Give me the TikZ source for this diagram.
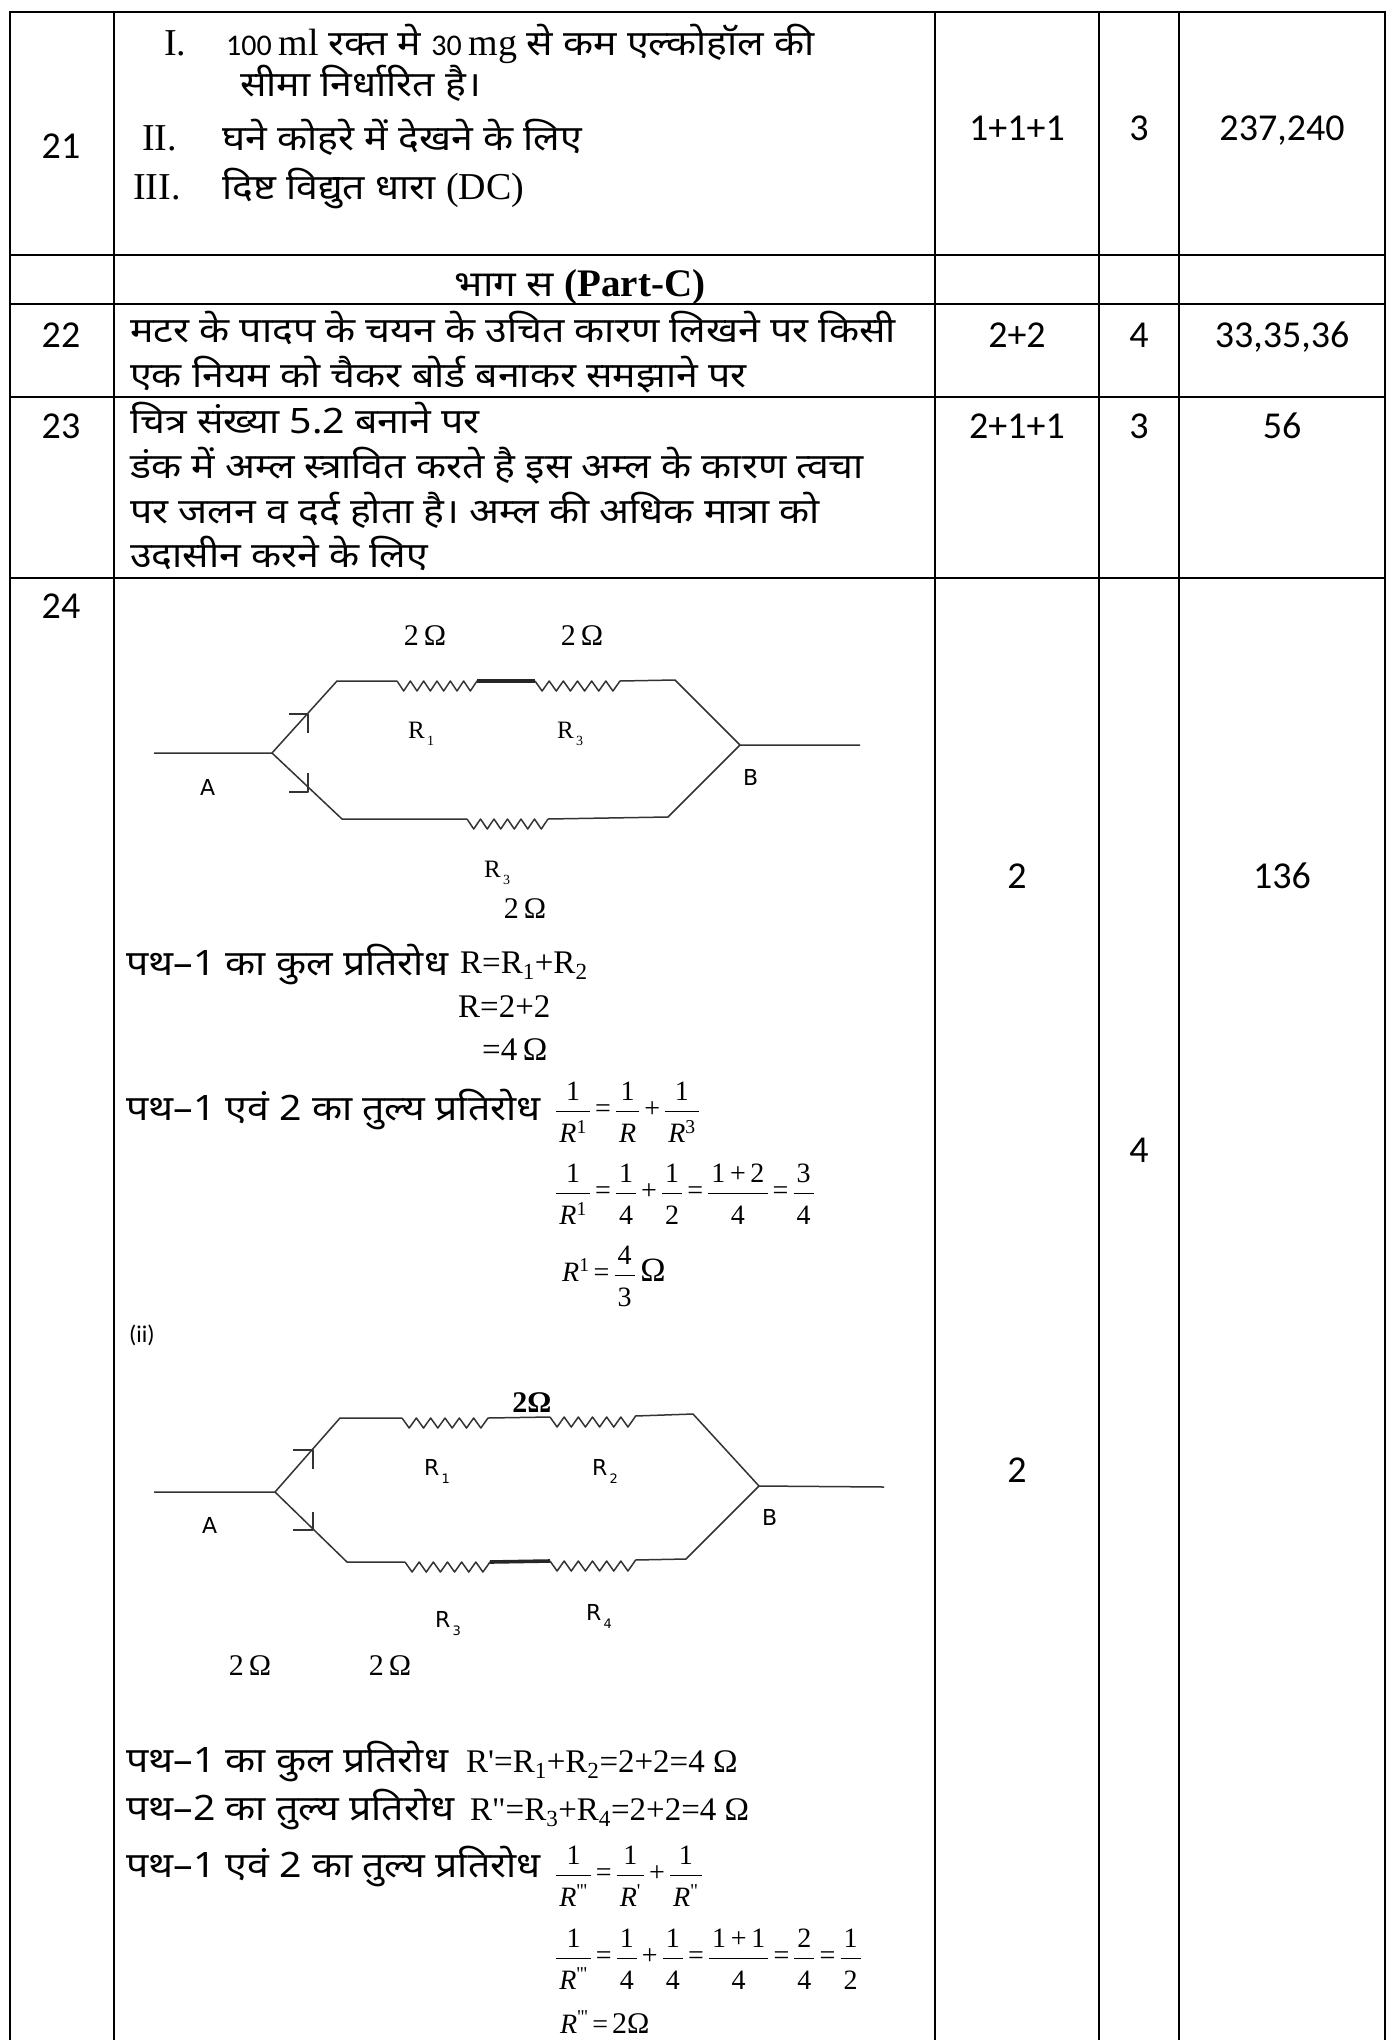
\documentclass[tikz,border=0pt]{standalone}
\usepackage{fontspec}
\setmainfont{Liberation Serif}
\newfontfamily\hnd[Script=Devanagari, FakeStretch=1.12]{Noto Sans}
\newfontfamily\calib{Carlito}
\newfontfamily\dejav{DejaVu Sans}
\newfontfamily\tms{Liberation Serif}
\usetikzlibrary{calc}
\newcommand\fsz[1]{\fontsize{#1}{#1}\selectfont}
\newcommand\fr[2]{\ensuremath{\displaystyle\frac{\hbox{\kern3pt#1\kern3pt}}{\hbox{\kern3pt\rule{0pt}{1.08em}#2\kern3pt}}}}
\newcommand\op[1]{\hspace{4pt}#1\hspace{4pt}}
\newcommand\Ri{\textit{R}}
\newcommand\sq{\textquotesingle}
\newcommand\resist[2]{%
  \draw[wire] let \p1=(#1), \p2=(#2), \n1={(\x2-\x1)/6} in (\p1)
    \foreach \k in {1,...,6}{ -- ++({\n1/2},10) -- ++({\n1/2},-10) } -- (\p2);}
\tikzset{
  T/.style={inner sep=0pt, anchor=base west},
  C/.style={inner sep=0pt, anchor=base},
  tline/.style={line width=2pt, black},
  wire/.style={line width=1.5pt, black!80, line join=round},
  thickwire/.style={line width=3.6pt, black!85},
  num/.style={C, font=\calib\fsz{38}},
  hin/.style={T, font=\hnd\fsz{35}},
  rom/.style={T, font=\tms\fsz{38}},
  eq/.style={T, font=\tms\fsz{33}},
  frx/.style={T, font=\tms\fsz{28}},
  clab/.style={T, font=\tms\fsz{25}},
  slab/.style={T, font=\dejav\fsz{22}},
  ohm/.style={C, font=\tms\fsz{30}},
}
\begin{document}
\begin{tikzpicture}[x=1pt,y=-1pt]
\fill[white] (0,0) rectangle (1390,2040);
\useasboundingbox (0,0) rectangle (1390,2040);
% ---------------- table rules
\foreach \xx in {10,114,935,1099,1179,1385}{\draw[tline] (\xx,11) -- (\xx,2040);}
\foreach \yy in {12,255,304,397,578}{\draw[tline] (9,\yy) -- (1386,\yy);}
% ---------------- row 21
\node[num] (n21) at (61,158) {21};
\node[rom] (r21i) at (164,55) {I.};
\node[T] (r21a) at (226,55) {\calib\fsz{30}100 \tms\fsz{38}ml \hnd\fsz{35}रक्त मे \calib\fsz{30}30 \tms\fsz{38}mg \hnd\fsz{35}से कम एल्कोहॉल की};
\node[hin] (r21b) at (240,96) {सीमा निर्धारित है।};
\node[rom] (r21ii) at (142,150) {II.};
\node[hin] (r21c) at (222,150) {घने कोहरे में देखने के लिए};
\node[rom] (r21iii) at (133,199) {III.};
\node[T] (r21d) at (222,199) {\hnd\fsz{35}दिष्ट विद्युत धारा \tms\fsz{38}(DC)};
\node[num] (m21) at (1017,140) {1+1+1};
\node[num] (k21) at (1139,140) {3};
\node[num] (p21) at (1282,140) {237,240};
% ---------------- part C
\node[C] (partc) at (580,296) {\bfseries\hnd\fsz{36}भाग स \tms\fsz{39}(Part-C)};
% ---------------- row 22
\node[num] (n22) at (61,347) {22};
\node[hin] (t22a) at (130,342) {मटर के पादप के चयन के उचित कारण लिखने पर किसी};
\node[hin] (t22b) at (130,387) {एक नियम को चैकर बोर्ड बनाकर समझाने पर};
\node[num] (m22) at (1017,347) {2+2};
\node[num] (k22) at (1139,347) {4};
\node[num] (p22) at (1282,347) {33,35,36};
% ---------------- row 23
\node[num] (n23) at (61,438) {23};
\node[hin] (t23a) at (130,433) {चित्र संख्या 5.2 बनाने पर};
\node[hin] (t23b) at (130,478) {डंक में अम्ल स्त्रावित करते है इस अम्ल के कारण त्वचा};
\node[hin] (t23c) at (130,523) {पर जलन व दर्द होता है। अम्ल की अधिक मात्रा को};
\node[hin] (t23d) at (130,567) {उदासीन करने के लिए};
\node[num] (m23) at (1017,438) {2+1+1};
\node[num] (k23) at (1139,438) {3};
\node[num] (p23) at (1282,438) {56};
% ---------------- row 24 marks
\node[num] (n24) at (61,618) {24};
\node[num] (m24a) at (1017,888) {2};
\node[num] (p24) at (1282,888) {136};
\node[num] (k24) at (1139,1162) {4};
\node[num] (m24b) at (1017,1482) {2};
% ---------------- circuit 1
\coordinate (a1in) at (154,753);
\coordinate (A1) at (272,753);
\coordinate (ul1) at (337,681);
\coordinate (r1s) at (397,681);
\coordinate (r1e) at (477,681);
\coordinate (r2s) at (535,681);
\coordinate (r2e) at (620,681);
\coordinate (ur1) at (675,680);
\coordinate (B1) at (740,745);
\coordinate (b1out) at (860,745);
\coordinate (ll1) at (342,819);
\coordinate (r3s) at (467,819);
\coordinate (r3e) at (548,819);
\coordinate (lr1) at (668,817);
\draw[wire] (a1in) -- (A1) -- (ul1) -- (r1s);
\resist{r1s}{r1e}
\draw[thickwire] (r1e) -- (r2s);
\resist{r2s}{r2e}
\draw[wire] (r2e) -- (ur1) -- (B1) -- (b1out);
\draw[wire] (A1) -- (ll1) -- (r3s);
\resist{r3s}{r3e}
\draw[wire] (r3e) -- (lr1) -- (B1);
\coordinate (m1a) at (308,714);
\coordinate (m1b) at (308,792);
\draw[wire] ([xshift=-19pt]m1a) -- (m1a) -- ([yshift=-19pt]m1a);
\draw[wire] ([yshift=19pt]m1b) -- (m1b) -- ([xshift=-19pt]m1b);
\node[ohm] (w1) at (425,645) {2\,Ω};
\node[ohm] (w2) at (582,645) {2\,Ω};
\node[clab] (lR1) at (408,738) {R\raisebox{-7pt}{\fsz{14}\,1}};
\node[clab] (lR3) at (557,738) {R\raisebox{-7pt}{\fsz{14}\,3}};
\node[slab] (lA1) at (200,795) {A};
\node[slab] (lB1) at (743,785) {B};
\node[clab] (lR3b) at (484,877) {R\raisebox{-7pt}{\fsz{14}\,3}};
\node[ohm] (w3) at (525,918) {2\,Ω};
% ---------------- part (i) working
\node[hin] (hp1) at (126,975) {पथ–1 का कुल प्रतिरोध};
\node[eq] (eq1) at (460,973) {R=R\textsubscript{1}+R\textsubscript{2}};
\node[eq] (eq2) at (458,1017) {R=2+2};
\node[eq] (eq3) at (482,1060) {=4\,Ω};
\node[hin] (hp2) at (126,1120) {पथ–1 एवं 2 का तुल्य प्रतिरोध};
\node[frx] (fr1) at (555,1117) {\fr{1}{\Ri\textsuperscript{1}}\op{=}\fr{1}{\Ri}\op{+}\fr{1}{\Ri\textsuperscript{3}}};
\node[frx] (fr2) at (555,1199) {\fr{1}{\Ri\textsuperscript{1}}\op{=}\fr{1}{4}\op{+}\fr{1}{2}\op{=}\fr{1\,+\,2}{4}\op{=}\fr{3}{4}};
\node[frx] (fr3) at (562,1281) {\Ri\textsuperscript{1}\op{=}\fr{4}{3}\,{\fsz{34}Ω}};
\node[T, font=\calib\fsz{24}] (ii) at (129,1342) {(ii)};
% ---------------- circuit 2
\coordinate (a2in) at (154,1492);
\coordinate (A2) at (275,1492);
\coordinate (ul2) at (340,1418);
\coordinate (q1s) at (402,1418);
\coordinate (q1e) at (488,1418);
\coordinate (q2s) at (550,1417);
\coordinate (q2e) at (635,1416);
\coordinate (ur2) at (693,1414);
\coordinate (B2) at (759,1486);
\coordinate (b2out) at (884,1487);
\coordinate (ll2) at (347,1562);
\coordinate (q3s) at (405,1562);
\coordinate (q3e) at (490,1562);
\coordinate (q4s) at (550,1561);
\coordinate (q4e) at (635,1560);
\coordinate (lr2) at (686,1559);
\draw[wire] (a2in) -- (A2) -- (ul2) -- (q1s);
\resist{q1s}{q1e}
\draw[wire] (q1e) -- (q2s);
\resist{q2s}{q2e}
\draw[wire] (q2e) -- (ur2) -- (B2) -- (b2out);
\draw[wire] (A2) -- (ll2) -- (q3s);
\resist{q3s}{q3e}
\draw[thickwire] (q3e) -- (q4s);
\resist{q4s}{q4e}
\draw[wire] (q4e) -- (lr2) -- (B2);
\coordinate (m2a) at (313,1450);
\coordinate (m2b) at (313,1530);
\draw[wire] ([xshift=-20pt]m2a) -- (m2a) -- ([yshift=-19pt]m2a);
\draw[wire] ([yshift=18pt]m2b) -- (m2b) -- ([xshift=-20pt]m2b);
\node[C, font=\tms\bfseries\fsz{30}] (w4) at (532,1412) {2Ω};
\node[slab] (qR1) at (424,1475) {R\raisebox{-8pt}{\fsz{13}\,1}};
\node[slab] (qR2) at (592,1475) {R\raisebox{-8pt}{\fsz{13}\,2}};
\node[slab] (lA2) at (202,1533) {A};
\node[slab] (lB2) at (762,1525) {B};
\node[slab] (qR3) at (435,1627) {R\raisebox{-8pt}{\fsz{13}\,3}};
\node[slab] (qR4) at (586,1620) {R\raisebox{-8pt}{\fsz{13}\,4}};
\node[ohm] (w5) at (250,1675) {2\,Ω};
\node[ohm] (w6) at (390,1675) {2\,Ω};
% ---------------- part (ii) working
\node[hin] (hq1) at (126,1772) {पथ–1 का कुल प्रतिरोध};
\node[eq] (eq4) at (466,1772) {R\sq=R\textsubscript{1}+R\textsubscript{2}=2+2=4 Ω};
\node[hin] (hq2) at (126,1820) {पथ–2 का तुल्य प्रतिरोध};
\node[eq] (eq5) at (470,1820) {R\textquotedbl=R\textsubscript{3}+R\textsubscript{4}=2+2=4 Ω};
\node[hin] (hq3) at (126,1877) {पथ–1 एवं 2 का तुल्य प्रतिरोध};
\node[frx] (fr4) at (555,1881) {\fr{1}{\Ri\textsuperscript{\sq\sq\sq}}\op{=}\fr{1}{\Ri\textsuperscript{\sq}}\op{+}\fr{1}{\Ri\textsuperscript{\textquotedbl}}};
\node[frx] (fr5) at (555,1964) {\fr{1}{\Ri\textsuperscript{\sq\sq\sq}}\op{=}\fr{1}{4}\op{+}\fr{1}{4}\op{=}\fr{1\,+\,1}{4}\op{=}\fr{2}{4}\op{=}\fr{1}{2}};
\node[frx] (fr6) at (560,2033) {\Ri\textsuperscript{\sq\sq\sq}\op{=}{\fsz{30}2Ω}};
\end{tikzpicture}
\end{document}
